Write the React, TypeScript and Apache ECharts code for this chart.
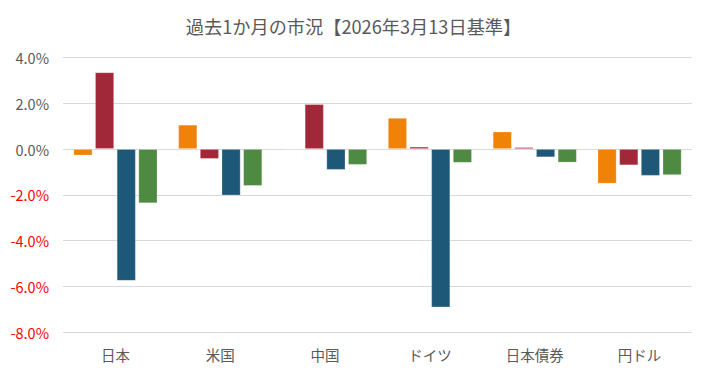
import React, { useEffect, useRef } from "react";
import * as echarts from "echarts";

const categories = ["日本", "米国", "中国", "ドイツ", "日本債券", "円ドル"];
const seriesA = [-0.28, 1.06, 0.0, 1.36, 0.76, -1.51];
const seriesB = [3.35, -0.43, 1.96, 0.1, 0.08, -0.71];
const seriesC = [-5.76, -2.03, -0.91, -6.92, -0.36, -1.17];
const seriesD = [-2.37, -1.61, -0.69, -0.6, -0.59, -1.14];
const colors = ["#F08208", "#A02838", "#1E5879", "#4E8A41"];
const title = "過去1か月の市況【2026年3月13日基準】";

export default function App() {
  const ref = useRef<HTMLDivElement>(null);
  useEffect(() => {
    if (!ref.current) return;
    const chart = echarts.init(ref.current, null, { renderer: "svg" });
    const font = "'Noto Sans CJK JP', sans-serif";
    const mk = (data: number[], i: number) => ({
      type: "bar",
      data,
      barWidth: 19,
      barGap: "14%",
      itemStyle: { color: colors[i], borderColor: "rgba(255,255,255,0.3)", borderWidth: 0.8 },
    });
    chart.setOption({
      animation: false,
      title: {
        text: title,
        left: "center",
        top: 12,
        textStyle: { fontFamily: font, fontSize: 18.2, fontWeight: "normal", color: "#595959" },
      },
      grid: { left: 63, right: 15, top: 57.5, bottom: 44, containLabel: false },
      xAxis: {
        type: "category",
        data: categories,
        axisLine: { show: false },
        axisTick: { show: false },
        axisLabel: { fontFamily: font, fontSize: 14.5, color: "#595959", margin: 15 },
      },
      yAxis: {
        type: "value",
        min: -8,
        max: 4,
        interval: 2,
        axisLine: { show: false },
        axisTick: { show: false },
        splitLine: { lineStyle: { color: "#D9D9D9", width: 1 } },
        axisLabel: {
          fontFamily: font,
          fontSize: 14.5,
          margin: 14,
          formatter: (v: number) => (v < 0 ? "{n|" + v.toFixed(1) + "%}" : "{p|" + v.toFixed(1) + "%}"),
          rich: {
            n: { color: "#FF0000", fontFamily: font, fontSize: 14.5 },
            p: { color: "#595959", fontFamily: font, fontSize: 14.5 },
          },
        },
      },
      series: [mk(seriesA, 0), mk(seriesB, 1), mk(seriesC, 2), mk(seriesD, 3)],
    });
    return () => chart.dispose();
  }, []);
  return (
    <div
      ref={ref}
      style={{ position: "absolute", left: 0, top: 0, width: 707, height: 376, background: "#fff" }}
    />
  );
}
